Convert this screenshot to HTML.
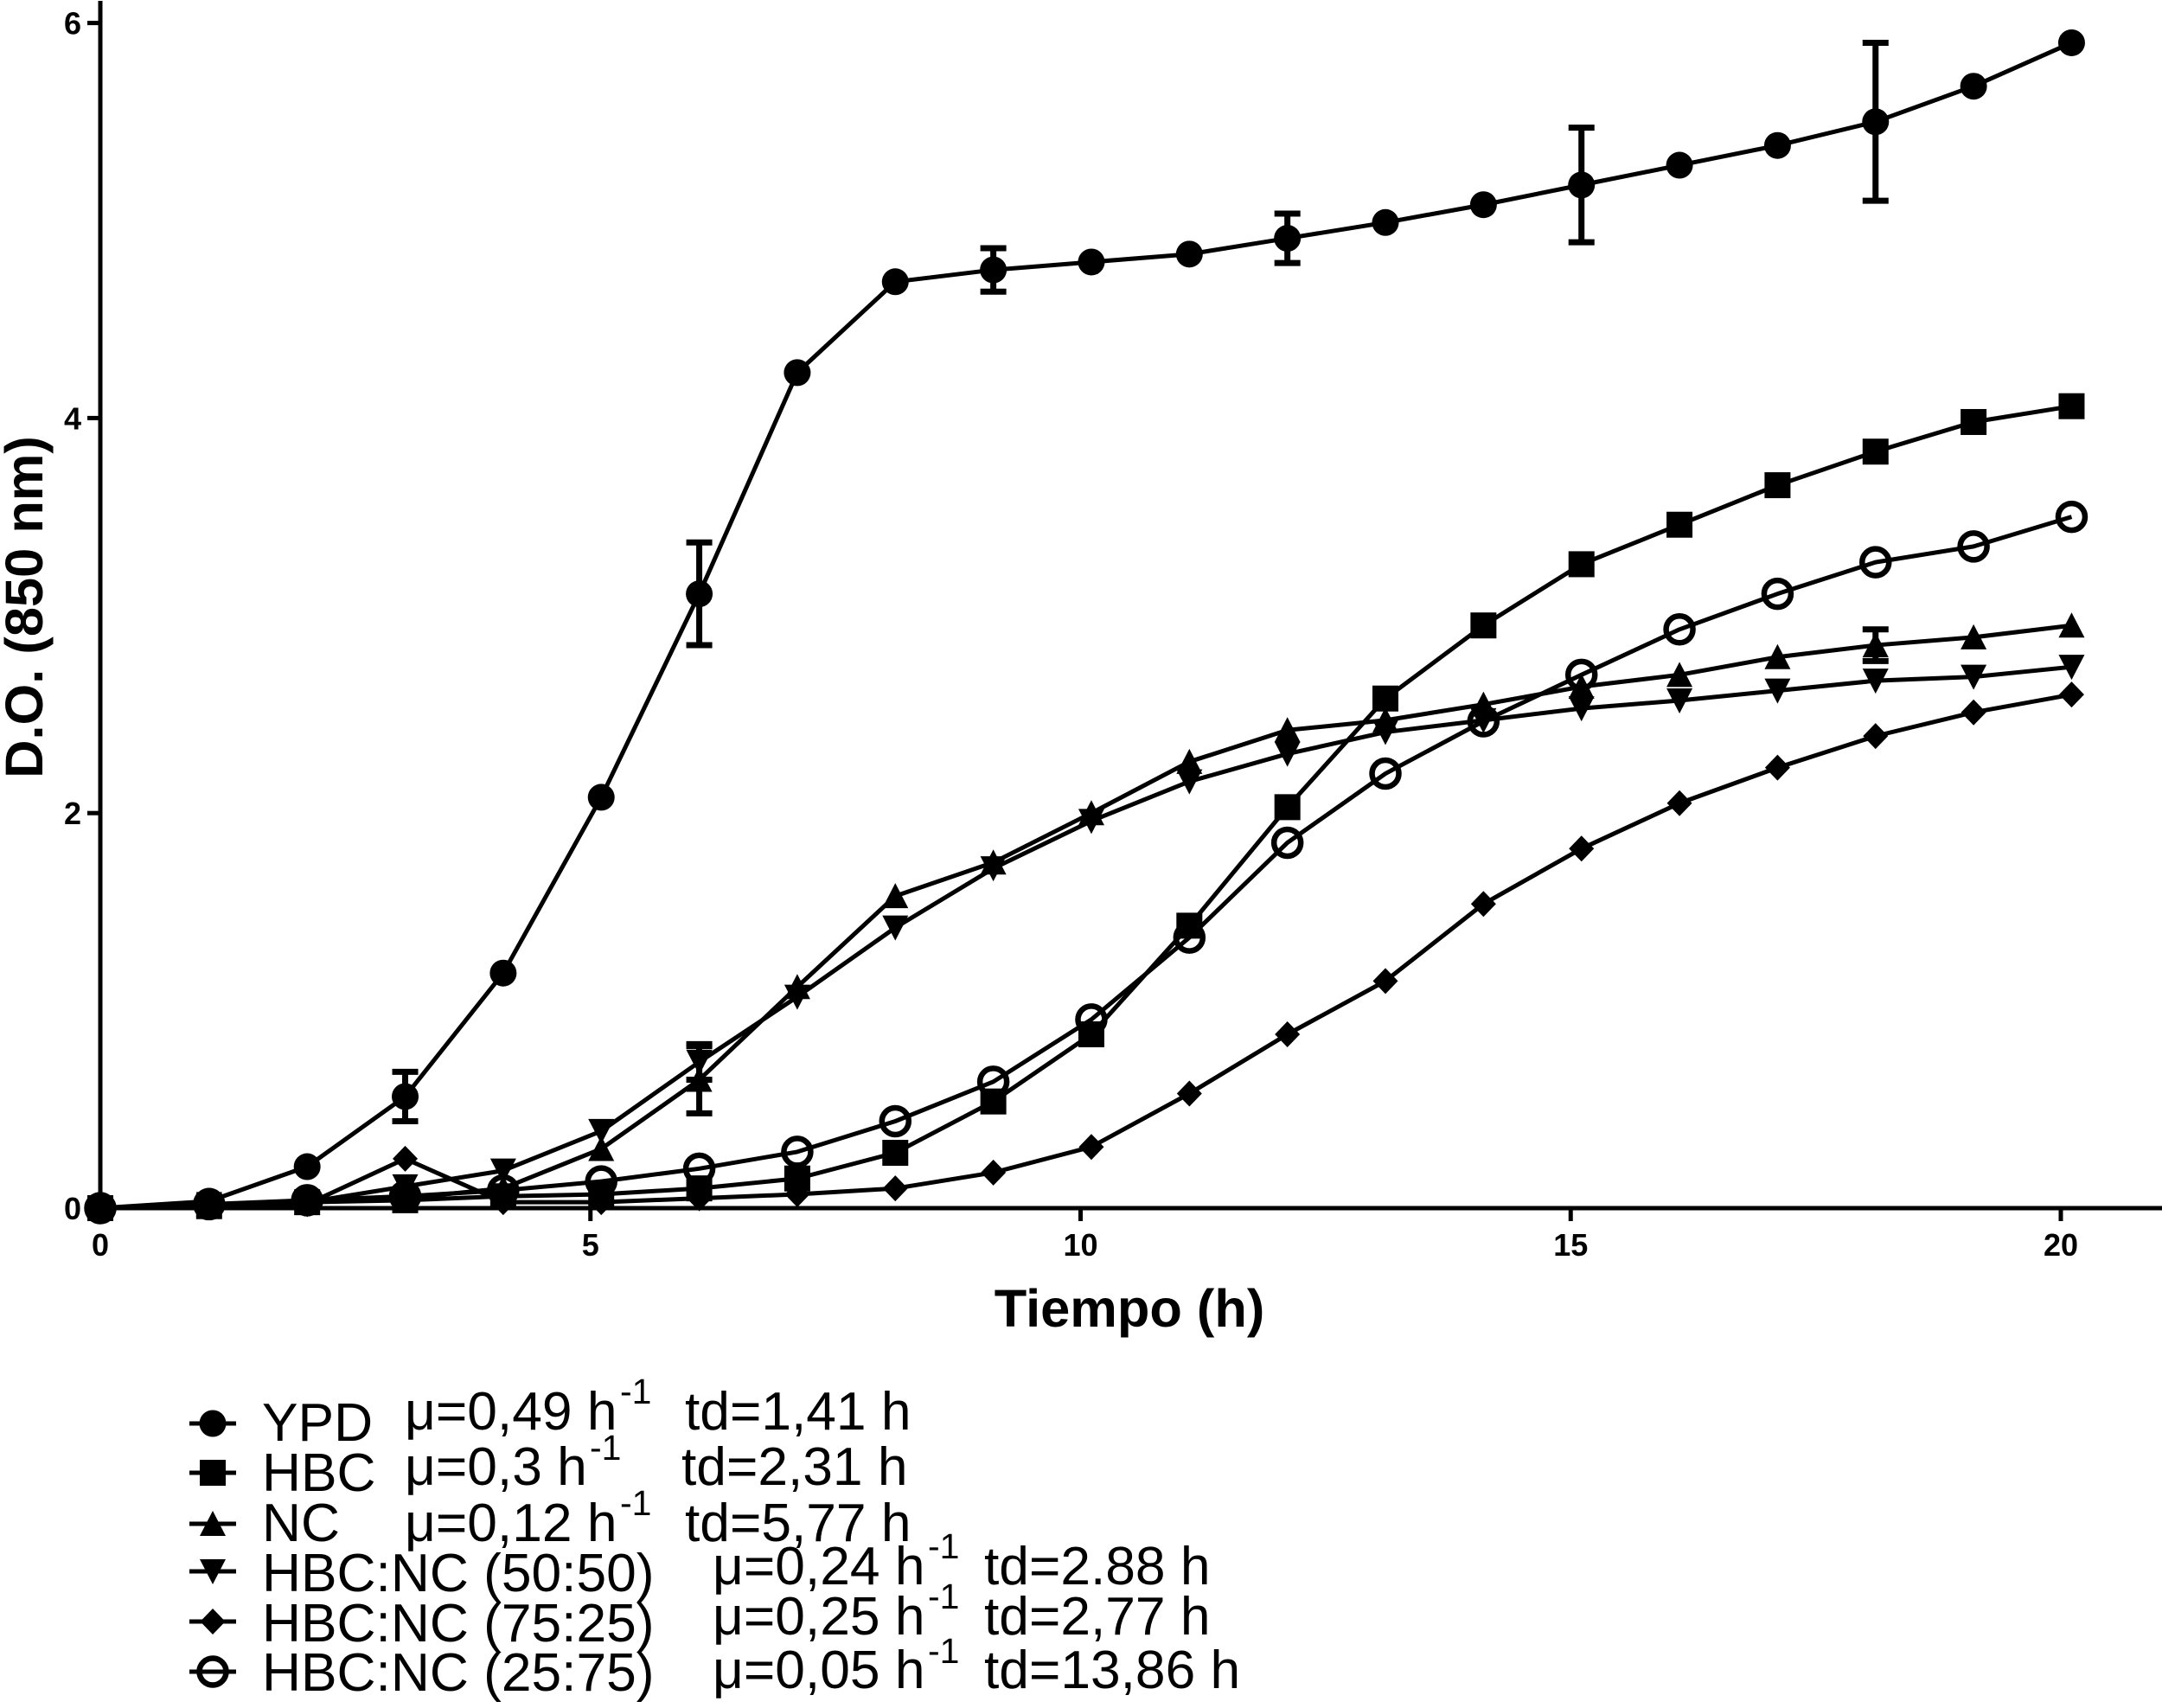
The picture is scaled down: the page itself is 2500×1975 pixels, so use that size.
<!DOCTYPE html>
<html lang="es">
<head>
<meta charset="utf-8">
<title>Curva de crecimiento</title>
<style>
html,body{margin:0;padding:0;background:#fff;}
svg{display:block;}
text{font-family:"Liberation Sans",sans-serif;fill:#000;}
.tick{font-size:36px;font-weight:bold;}
.title{font-size:61.4px;font-weight:bold;}
.lg{font-size:62.3px;}
.sup{font-size:41px;}
</style>
</head>
<body>
<svg id="chart" xmlns="http://www.w3.org/2000/svg" width="2500" height="1975" viewBox="0 0 2500 1975">
<rect x="0" y="0" width="2500" height="1975" fill="#fff"/>
<g id="plot"></g>
<text class="title" x="1306" y="1534" text-anchor="middle">Tiempo (h)</text>
<text class="title" transform="translate(49,702) rotate(-90)" text-anchor="middle">D.O. (850 nm)</text>
<g id="legend">
<text class="lg" x="303" y="1666">YPD</text>
<text class="lg" x="468" y="1653">μ=0,49 h</text>
<text class="sup" x="717" y="1623">-1</text>
<text class="lg" x="792" y="1653">td=1,41 h</text>
<text class="lg" x="303" y="1724">HBC</text>
<text class="lg" x="468" y="1717">μ=0,3 h</text>
<text class="sup" x="682" y="1688">-1</text>
<text class="lg" x="788" y="1717">td=2,31 h</text>
<text class="lg" x="303" y="1782">NC</text>
<text class="lg" x="468" y="1782">μ=0,12 h</text>
<text class="sup" x="717" y="1752">-1</text>
<text class="lg" x="792" y="1782">td=5,77 h</text>
<text class="lg" x="303" y="1840">HBC:NC (50:50)</text>
<text class="lg" x="824" y="1832">μ=0,24 h</text>
<text class="sup" x="1073" y="1802">-1</text>
<text class="lg" x="1138" y="1832">td=2.88 h</text>
<text class="lg" x="303" y="1898">HBC:NC (75:25)</text>
<text class="lg" x="824" y="1890">μ=0,25 h</text>
<text class="sup" x="1073" y="1860">-1</text>
<text class="lg" x="1138" y="1890">td=2,77 h</text>
<text class="lg" x="303" y="1955">HBC:NC (25:75)</text>
<text class="lg" x="824" y="1952">μ=0,05 h</text>
<text class="sup" x="1073" y="1923">-1</text>
<text class="lg" x="1138" y="1952">td=13,86 h</text>
</g>
</svg>
<script>
var times = [0,1.11,2.11,3.11,4.11,5.11,6.11,7.11,8.11,9.11,10.11,11.11,12.11,13.11,14.11,15.11,16.11,17.11,18.11,19.11,20.11];
var xTickLabels = [0,5,10,15,20];
var yTickLabels = [0,2,4,6];

var seriesNames = ['hbc-nc-25-75','hbc-nc-75-25','hbc-nc-50-50','nc','hbc','ypd'];

var ypdValues = [0,0.035,0.21,0.565,1.19,2.08,3.11,4.23,4.69,4.75,4.79,4.83,4.91,4.99,5.08,5.18,5.28,5.38,5.50,5.68,5.90];
var ypdErrors = [0,0,0,0.125,0,0,0.26,0,0,0.11,0,0,0.125,0,0,0.29,0,0,0.40,0,0];

var hbcValues = [0,0.01,0.03,0.04,0.06,0.07,0.10,0.15,0.28,0.54,0.88,1.43,2.03,2.58,2.95,3.26,3.46,3.66,3.83,3.98,4.06];
var hbcErrors = [0,0,0,0,0,0,0,0,0,0,0,0,0,0,0,0,0,0,0,0,0];

var ncValues = [0,0.02,0.03,0.05,0.10,0.30,0.65,1.12,1.58,1.75,2.00,2.26,2.42,2.47,2.55,2.64,2.70,2.79,2.85,2.89,2.95];
var ncErrors = [0,0,0,0,0,0,0.17,0,0,0,0,0,0,0,0,0,0,0,0.08,0,0];

var mix5050Values = [0,0.02,0.03,0.11,0.19,0.39,0.74,1.07,1.42,1.72,1.96,2.16,2.30,2.41,2.47,2.53,2.57,2.62,2.67,2.69,2.74];
var mix5050Errors = [0,0,0,0,0,0,0.09,0,0,0,0,0,0,0,0,0,0,0,0,0,0];

var mix7525Values = [0,0.01,0.02,0.25,0.03,0.03,0.05,0.07,0.10,0.18,0.31,0.58,0.88,1.15,1.54,1.82,2.05,2.23,2.39,2.51,2.60];
var mix7525Errors = [0,0,0,0,0,0,0,0,0,0,0,0,0,0,0,0,0,0,0,0,0];

var mix2575Values = [0,0.02,0.04,0.06,0.09,0.135,0.20,0.285,0.44,0.64,0.955,1.37,1.85,2.20,2.465,2.70,2.93,3.11,3.27,3.35,3.50];
var mix2575Errors = [0,0,0,0,0,0,0,0,0,0,0,0,0,0,0,0,0,0,0,0,0];

var SVGNS = 'http://www.w3.org/2000/svg';
var plot = document.getElementById('plot');
var legend = document.getElementById('legend');

function xScale(v){ return 116 + v * 113.35; }
function yScale(v){ return 1397 - v * 228.4; }

function make(tag, attrs, parent){
  var el = document.createElementNS(SVGNS, tag);
  for (var k in attrs) el.setAttribute(k, attrs[k]);
  parent.appendChild(el);
  return el;
}

function drawMarker(kind, cx, cy, parent){
  var r = 15, el;
  if (kind === 'circle') {
    el = make('circle', {cx:cx, cy:cy, r:15.5, fill:'#000'}, parent);
  } else if (kind === 'open') {
    el = make('circle', {cx:cx, cy:cy, r:15.5, fill:'none', stroke:'#000', 'stroke-width':6.5}, parent);
  } else if (kind === 'square') {
    el = make('rect', {x:cx-r, y:cy-r, width:2*r, height:2*r, fill:'#000'}, parent);
  } else if (kind === 'up') {
    el = make('polygon', {points:(cx)+','+(cy-15)+' '+(cx+15)+','+(cy+14)+' '+(cx-15)+','+(cy+14), fill:'#000'}, parent);
  } else if (kind === 'down') {
    el = make('polygon', {points:(cx)+','+(cy+15)+' '+(cx+15)+','+(cy-14)+' '+(cx-15)+','+(cy-14), fill:'#000'}, parent);
  } else {
    el = make('polygon', {points:(cx)+','+(cy-15)+' '+(cx+14.5)+','+(cy)+' '+(cx)+','+(cy+15)+' '+(cx-14.5)+','+(cy), fill:'#000'}, parent);
  }
  return el;
}

function drawSeries(name, kind, values, errors){
  var g = make('g', {}, plot);
  
  
  var pts = [];
  for (var i = 0; i < values.length; i++) pts.push(xScale(times[i]) + ',' + yScale(values[i]));
  var line = make('polyline', {points:pts.join(' '), fill:'none', stroke:'#000', 'stroke-width':5, 'stroke-linejoin':'round'}, g);
  
  
  for (var j = 0; j < values.length; j++) {
    var cx = xScale(times[j]), cy = yScale(values[j]);
    if (errors[j] > 0) {
      var top = yScale(values[j] + errors[j]), bot = yScale(values[j] - errors[j]);
      var eb = make('path', {d:'M'+cx+' '+top+'V'+bot+'M'+(cx-15)+' '+top+'H'+(cx+15)+'M'+(cx-15)+' '+bot+'H'+(cx+15), fill:'none', stroke:'#000', 'stroke-width':7}, g);
      
      
    }
    var m = drawMarker(kind, cx, cy, g);
    
    
  }
}

/* axes */
var yAxis = make('line', {x1:116, y1:1, x2:116, y2:1399.5, stroke:'#000', 'stroke-width':5}, plot);


var xAxis = make('line', {x1:113.5, y1:1397, x2:2500, y2:1397, stroke:'#000', 'stroke-width':5}, plot);



xTickLabels.forEach(function(v){
  var x = xScale(v);
  var t = make('line', {x1:x, y1:1397, x2:x, y2:1412, stroke:'#000', 'stroke-width':5}, plot);
  
  
  var l = make('text', {x:x, y:1452, 'text-anchor':'middle', 'class':'tick'}, plot);
  l.textContent = String(v);
  
  
});
yTickLabels.forEach(function(v){
  var y = yScale(v);
  var t = make('line', {x1:101, y1:y, x2:116, y2:y, stroke:'#000', 'stroke-width':5}, plot);
  
  
  var l = make('text', {x:94, y:y+13, 'text-anchor':'end', 'class':'tick'}, plot);
  l.textContent = String(v);
  
  
});

drawSeries(seriesNames[0], 'open', mix2575Values, mix2575Errors);
drawSeries(seriesNames[1], 'diamond', mix7525Values, mix7525Errors);
drawSeries(seriesNames[2], 'down', mix5050Values, mix5050Errors);
drawSeries(seriesNames[3], 'up', ncValues, ncErrors);
drawSeries(seriesNames[4], 'square', hbcValues, hbcErrors);
drawSeries(seriesNames[5], 'circle', ypdValues, ypdErrors);

/* legend keys */
var legendKinds = ['circle','square','up','down','diamond','open'];
var legendKeyNames = ['ypd','hbc','nc','50-50','75-25','25-75'];
var legendRowsY = [1646,1703,1762,1817,1875,1933];
legendKinds.forEach(function(kind, i){
  var y = legendRowsY[i];
  var ln = make('line', {x1:219, y1:y, x2:273, y2:y, stroke:'#000', 'stroke-width':5}, legend);
  
  
  var mk = drawMarker(kind, 246, y, legend);
  
  
});
</script>
</body>
</html>
